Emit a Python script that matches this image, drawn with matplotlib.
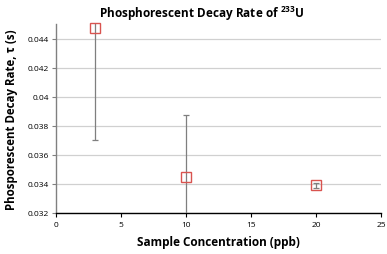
import numpy as np
import matplotlib
matplotlib.use("Agg")
import matplotlib.pyplot as plt

# data
conc = [3, 10, 20]
decay = [0.04472, 0.0345, 0.0339]
err = [0.0077, 0.00425, 0.00015]

x_ticks = [0, 5, 10, 15, 20, 25]
y_ticks = [0.032, 0.034, 0.036, 0.038, 0.04, 0.042, 0.044]
y_labels = ["0.032", "0.034", "0.036", "0.038", "0.04", "0.042", "0.044"]

plt.rcParams['font.family'] = ['Open Sans', 'DejaVu Sans']
plt.rcParams['mathtext.fontset'] = 'custom'
plt.rcParams['mathtext.rm'] = 'Open Sans'
plt.rcParams['mathtext.bf'] = 'Open Sans:bold'

fig = plt.figure(figsize=(3.87, 2.55), dpi=100)
ax = fig.add_axes([0.1447, 0.161, 0.84, 0.741])

ax.errorbar(conc, decay, yerr=err, fmt='none', ecolor='#7f7f7f',
            elinewidth=0.9, capsize=2.5, capthick=0.9, zorder=3)
ax.plot(conc, decay, linestyle='none', marker='s', markersize=7.5,
        markerfacecolor='none', markeredgecolor='#d9534f',
        markeredgewidth=1.0, zorder=4, clip_on=False)

ax.set_xlim(0, 25)
ax.set_ylim(0.032, 0.045)
ax.set_xticks(x_ticks)
ax.set_xticklabels([str(t) for t in x_ticks], fontsize=6)
ax.set_yticks(y_ticks)
ax.set_yticklabels(y_labels, fontsize=6)
ax.yaxis.grid(True, color='#d0d0d0', linewidth=0.9)
ax.set_axisbelow(True)

for s in ['top', 'right']:
    ax.spines[s].set_visible(False)
ax.spines['left'].set_color('#808080')
ax.spines['left'].set_linewidth(1.0)
ax.spines['bottom'].set_color('black')
ax.spines['bottom'].set_linewidth(1.0)
ax.tick_params(axis='y', length=3, width=0.8, color='#808080', pad=2)
ax.tick_params(axis='x', length=3, width=0.8, color='black', pad=3)

ax.set_xlabel('Sample Concentration (ppb)', fontsize=8.5, fontweight='bold', labelpad=5)
ax.set_ylabel('Phosporescent Decay Rate, τ (s)', fontsize=8.3, fontweight='bold', labelpad=7)
fig.text(0.52, 0.945, r'Phosphorescent Decay Rate of $\mathbf{^{233}}$U',
         ha='center', va='center', fontsize=8.5, fontweight='bold')

fig.savefig('out.png', dpi=100)
